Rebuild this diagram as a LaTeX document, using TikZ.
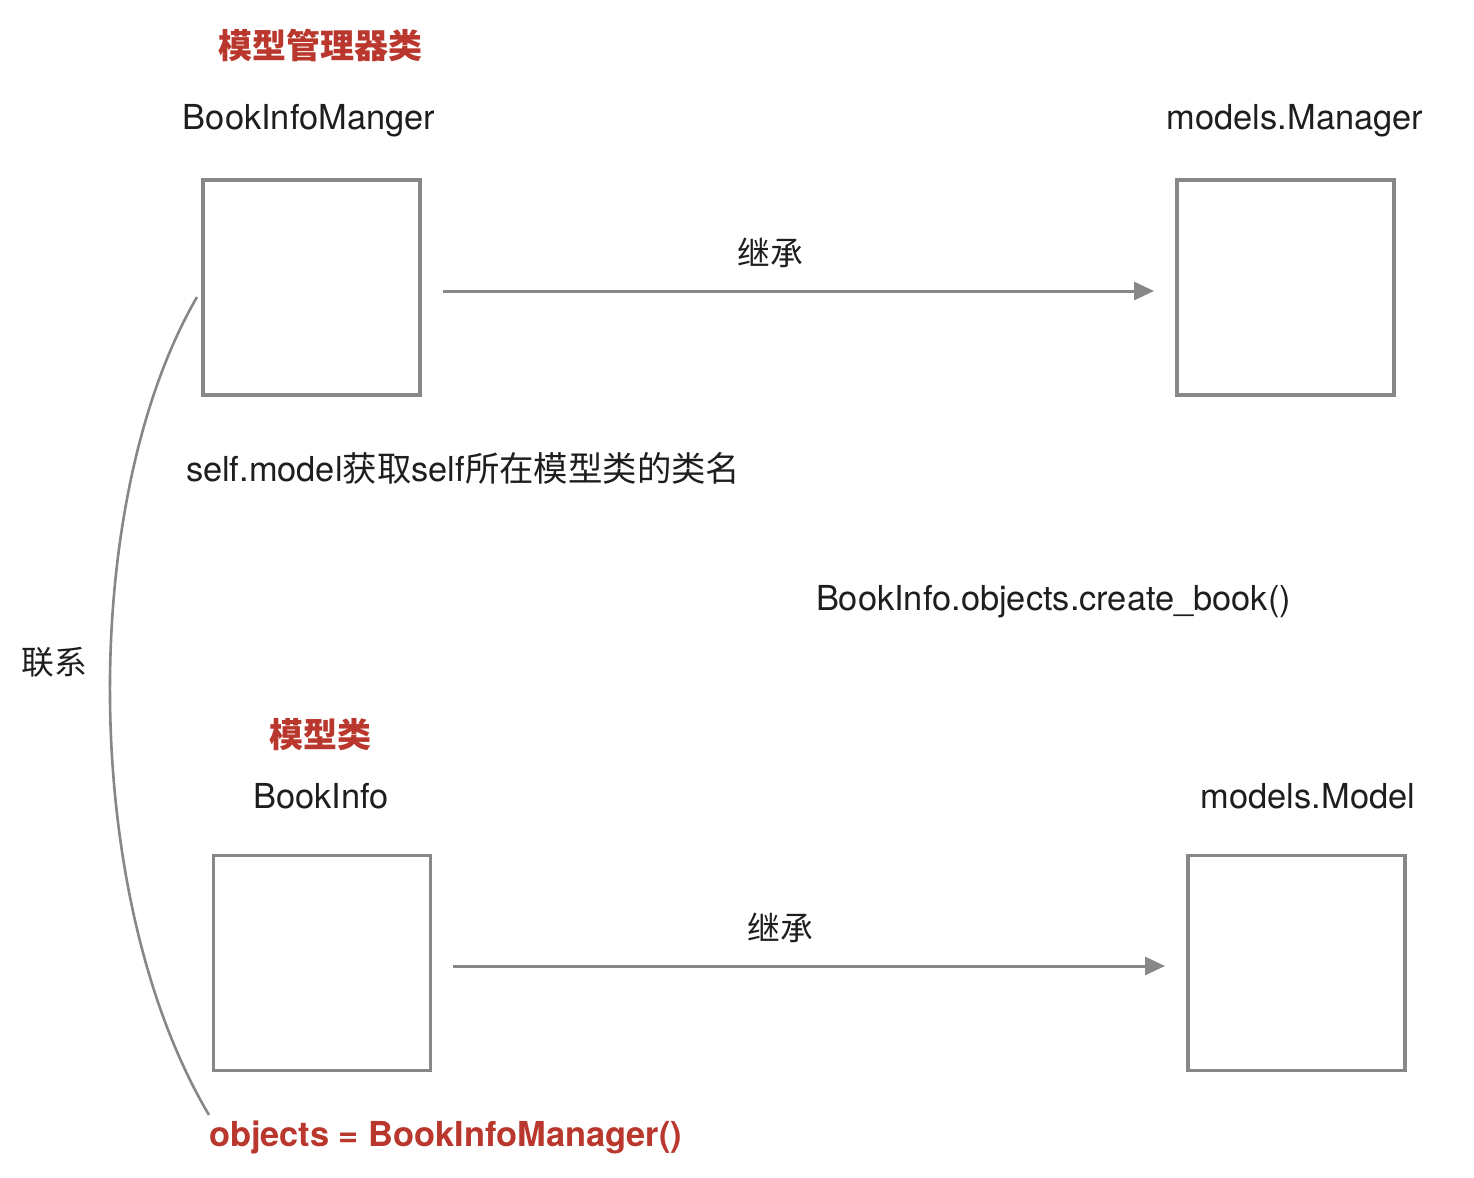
\documentclass[tikz,border=0pt]{standalone}
\usepackage{fontspec}
\setmainfont{TeX Gyre Heros}
\newfontfamily\cjk{Noto Sans CJK SC}
\usetikzlibrary{arrows.meta}
\definecolor{linegray}{RGB}{135,135,135}
\definecolor{txtblack}{RGB}{30,30,30}
\definecolor{titlered}{RGB}{185,55,45}
\begin{document}
\begin{tikzpicture}[x=0.5pt,y=-0.5pt,
  every node/.style={inner sep=0pt,outer sep=0pt},
  classbox/.style={draw=linegray,line width=1.6pt,minimum width=108.5pt,minimum height=107.5pt},
  lbl/.style={text=txtblack,font=\fontsize{17.2}{20}\selectfont},
  cjklbl/.style={text=txtblack,font=\fontsize{16.4}{20}\selectfont\cjk},
  redtitle/.style={text=titlered,font=\fontsize{17}{20}\selectfont\cjk\bfseries},
  redcode/.style={text=titlered,font=\fontsize{17.2}{20}\selectfont\bfseries},
  inherit/.style={draw=linegray,line width=1.5pt,-{Triangle[length=10pt,width=9pt]}},
  linkcurve/.style={draw=linegray,line width=1.3pt}]
\useasboundingbox (0,0) rectangle (1474,1178);
% boxes
\node[classbox] (mgr) at (311.5,287.5) {};
\node[classbox] (base) at (1285.5,287.5) {};
\node[classbox] (model) at (322,963) {};
\node[classbox] (basemodel) at (1296.5,963) {};
% titles and labels
\node[redtitle] (t1) at (320,45) {模型管理器类};
\node[lbl] (n1) at (309,121) {BookInfoManger};
\node[lbl] (n2) at (1295,121) {models.Manager};
\node[redtitle] (t2) at (320,735) {模型类};
\node[lbl] (n3) at (321,796) {BookInfo};
\node[lbl] (n4) at (1308,796) {models.Model};
\node[lbl,anchor=west] (selfm) at (186,468) {self.model{\cjk 获取}self{\cjk 所在模型类的类名}};
\node[lbl,anchor=west] (create) at (816,602) {BookInfo.objects.create\_book()};
\node[cjklbl] (rel) at (54,662) {联系};
\node[redcode,anchor=west] (obj) at (209,1137) {objects = BookInfoManager()};
% inheritance arrows
\draw[inherit] ([yshift=-1.75pt,xshift=11.5pt]mgr.east) -- node[cjklbl,pos=0.46,above=11.5pt] (inh1) {继承} ([yshift=-1.75pt,xshift=-11.5pt]base.west);
\draw[inherit] ([yshift=-1.5pt,xshift=11pt]model.east) -- node[cjklbl,pos=0.46,above=11.5pt] (inh2) {继承} ([yshift=-1.5pt,xshift=-11.5pt]basemodel.west);
% link curve
\coordinate (cs) at (197,297);
\coordinate (ce) at (209,1115);
\draw[linkcurve] (cs) .. controls (79,500) and (79,896) .. (ce);
\end{tikzpicture}
\end{document}
